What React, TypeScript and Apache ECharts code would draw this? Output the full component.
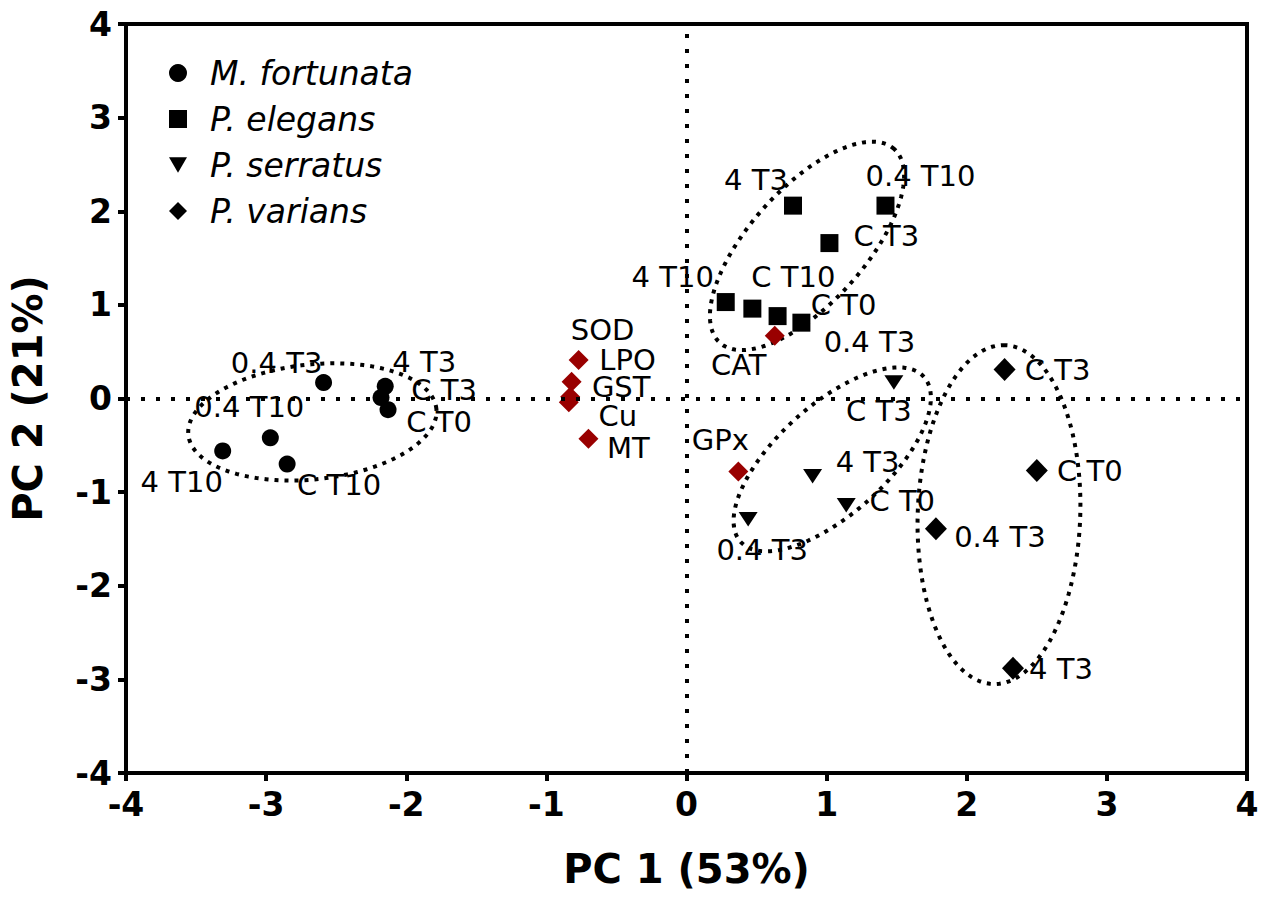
import React, { useEffect, useRef } from 'react';
import * as echarts from 'echarts';

// ---- Data ----
const speciesNames = ['M. fortunata', 'P. elegans', 'P. serratus', 'P. varians'];

const fortunataLabels = ['0.4 T3', '4 T3', 'C T3', 'C T0', '0.4 T10', '4 T10', 'C T10'];
const fortunataX = [-2.59, -2.15, -2.18, -2.13, -2.97, -3.31, -2.85];
const fortunataY = [0.17, 0.13, 0.01, -0.12, -0.42, -0.56, -0.70];

const elegansLabels = ['4 T3', '0.4 T10', 'C T3', '4 T10', 'C T10', 'C T0', '0.4 T3'];
const elegansX = [0.76, 1.42, 1.02, 0.28, 0.47, 0.65, 0.82];
const elegansY = [2.06, 2.06, 1.66, 1.03, 0.96, 0.88, 0.81];

const serratusLabels = ['C T3', '4 T3', 'C T0', '0.4 T3'];
const serratusX = [1.48, 0.90, 1.14, 0.44];
const serratusY = [0.17, -0.83, -1.14, -1.29];

const variansLabels = ['C T3', 'C T0', '0.4 T3', '4 T3'];
const variansX = [2.27, 2.50, 1.78, 2.33];
const variansY = [0.31, -0.77, -1.39, -2.88];

const variableLabels = ['SOD', 'LPO', 'GST', 'Cu', 'MT', 'CAT', 'GPx'];
const variableX = [-0.77, -0.82, -0.83, -0.84, -0.70, 0.63, 0.37];
const variableY = [0.41, 0.18, 0.02, -0.04, -0.43, 0.67, -0.78];

// cluster ellipses: centre (data), semi-axes (in x-axis units), tilt (deg)
const ellipseCx = [-2.67, 0.86, 1.04, 2.23];
const ellipseCy = [-0.25, 1.63, -0.65, -1.24];
const ellipseA = [0.89, 0.93, 0.88, 1.21];
const ellipseB = [0.41, 0.41, 0.39, 0.58];
const ellipseAngle = [6, 48, 42, 88];

const xTicks = { min: -4, max: 4, interval: 1 };
const yTicks = { min: -4, max: 4, interval: 1 };

// ---- label placement (pixel offsets from marker centre) ----
const fortunataOffsets = [[-47, -20], [39, -24], [63, -8], [51, 12], [-21, -31], [-41, 31], [52, 21]];
const elegansOffsets = [[-37, -26], [35, -30], [57, -7], [-53, -25], [41, -32], [66, -11], [68, 19]];
const serratusOffsets = [[-15, 28], [55, -14], [56, -4], [14, 31]];
const variansOffsets = [[53, 1], [53, 0], [64, 8], [48, 1]];
const variableOffsets = [[24, -30], [56, -22], [51, -10], [49, 14], [40, 9], [-36, 29], [-18, -32]];

const FONT = 'DejaVu Sans';
const triDown = 'path://M0,0L20,0L10,17Z';

function buildData(labels: string[], xs: number[], ys: number[], offsets: number[][]) {
  return labels.map((n, i) => ({
    name: n,
    value: [xs[i], ys[i]],
    label: { offset: offsets[i] },
  }));
}

const labelStyle = {
  show: true,
  position: 'inside',
  formatter: '{b}',
  color: '#000',
  opacity: 1,
  fontFamily: FONT,
  fontSize: 29,
  align: 'center',
  verticalAlign: 'middle',
};

export default function App() {
  const ref = useRef<HTMLDivElement>(null);
  useEffect(() => {
    const chart = echarts.init(ref.current!, null, { renderer: 'svg' });
    const axisCommon = {
      type: 'value',
      splitLine: { show: false },
      axisLine: { show: true, onZero: false, lineStyle: { color: '#000', width: 4 } },
      axisTick: { show: true, inside: false, length: 8, lineStyle: { color: '#000', width: 4 } },
      axisLabel: { color: '#000', fontFamily: FONT, fontWeight: 'bold', fontSize: 33 },
      nameLocation: 'middle',
      nameTextStyle: { color: '#000', fontFamily: FONT, fontWeight: 'bold', fontSize: 40 },
    };
    const markerStyle = { color: '#000', opacity: 1 };
    const option: any = {
      animation: false,
      backgroundColor: '#fff',
      grid: { left: 124, right: 24, top: 24, bottom: 138, show: true, borderColor: '#000', borderWidth: 4, backgroundColor: 'transparent' },
      legend: {
        orient: 'vertical',
        left: 164,
        top: 48,
        itemWidth: 18,
        itemHeight: 18,
        itemGap: 6,
        selectedMode: false,
        data: speciesNames,
        itemStyle: { opacity: 1 },
        textStyle: { fontFamily: FONT, fontStyle: 'italic', fontSize: 33, color: '#000', lineHeight: 40, padding: [0, 0, 0, 18] },
      },
      xAxis: {
        ...axisCommon,
        ...xTicks,
        name: 'PC 1 (53%)',
        nameGap: 76,
        axisLabel: { ...axisCommon.axisLabel, margin: 15 },
      },
      yAxis: {
        ...axisCommon,
        ...yTicks,
        name: 'PC 2 (21%)',
        nameGap: 78,
        axisLabel: { ...axisCommon.axisLabel, margin: 14 },
      },
      series: [
        {
          type: 'custom',
          name: 'clusters',
          z: 1,
          silent: true,
          encode: { x: 0, y: 1 },
          data: ellipseCx.map((cx, i) => [cx, ellipseCy[i], ellipseA[i], ellipseB[i], ellipseAngle[i]]),
          renderItem: (params: any, api: any) => {
            const c = api.coord([api.value(0), api.value(1)]);
            const u = api.size([1, 0])[0];
            const a = api.value(2) * u;
            const b = api.value(3) * u;
            const th = (api.value(4) * Math.PI) / 180;
            const pts: number[][] = [];
            const N = 160;
            for (let k = 0; k < N; k++) {
              const t = (k / N) * 2 * Math.PI;
              const ex = a * Math.cos(t);
              const ey = b * Math.sin(t);
              pts.push([
                c[0] + ex * Math.cos(th) - ey * Math.sin(th),
                c[1] - (ex * Math.sin(th) + ey * Math.cos(th)),
              ]);
            }
            return {
              type: 'polygon',
              shape: { points: pts },
              style: { fill: 'none', stroke: '#000', lineWidth: 4, lineDash: [4, 6] },
            };
          },
          markLine: {
            silent: true,
            symbol: 'none',
            label: { show: false },
            lineStyle: { color: '#000', width: 4, type: [4, 11], opacity: 1 },
            data: [{ xAxis: 0 }, { yAxis: 0 }],
          },
        },
        {
          type: 'scatter',
          name: 'M. fortunata',
          z: 3,
          symbol: 'circle',
          symbolSize: 17,
          itemStyle: markerStyle,
          label: labelStyle,
          data: buildData(fortunataLabels, fortunataX, fortunataY, fortunataOffsets),
        },
        {
          type: 'scatter',
          name: 'P. elegans',
          z: 3,
          symbol: 'rect',
          symbolSize: 18,
          itemStyle: markerStyle,
          label: labelStyle,
          data: buildData(elegansLabels, elegansX, elegansY, elegansOffsets),
        },
        {
          type: 'scatter',
          name: 'P. serratus',
          z: 3,
          symbol: triDown,
          symbolSize: [19, 17],
          symbolKeepAspect: true,
          itemStyle: markerStyle,
          label: labelStyle,
          data: buildData(serratusLabels, serratusX, serratusY, serratusOffsets),
        },
        {
          type: 'scatter',
          name: 'P. varians',
          z: 3,
          symbol: 'diamond',
          symbolSize: [22, 23],
          itemStyle: markerStyle,
          label: labelStyle,
          data: buildData(variansLabels, variansX, variansY, variansOffsets),
        },
        {
          type: 'scatter',
          name: 'Variables',
          z: 3,
          symbol: 'diamond',
          symbolSize: 20,
          itemStyle: { color: '#990000', opacity: 1 },
          label: labelStyle,
          data: buildData(variableLabels, variableX, variableY, variableOffsets),
        },
      ],
    };
    chart.setOption(option);
    return () => chart.dispose();
  }, []);
  return <div ref={ref} style={{ position: 'fixed', left: 0, top: 0, width: 1271, height: 911 }} />;
}
